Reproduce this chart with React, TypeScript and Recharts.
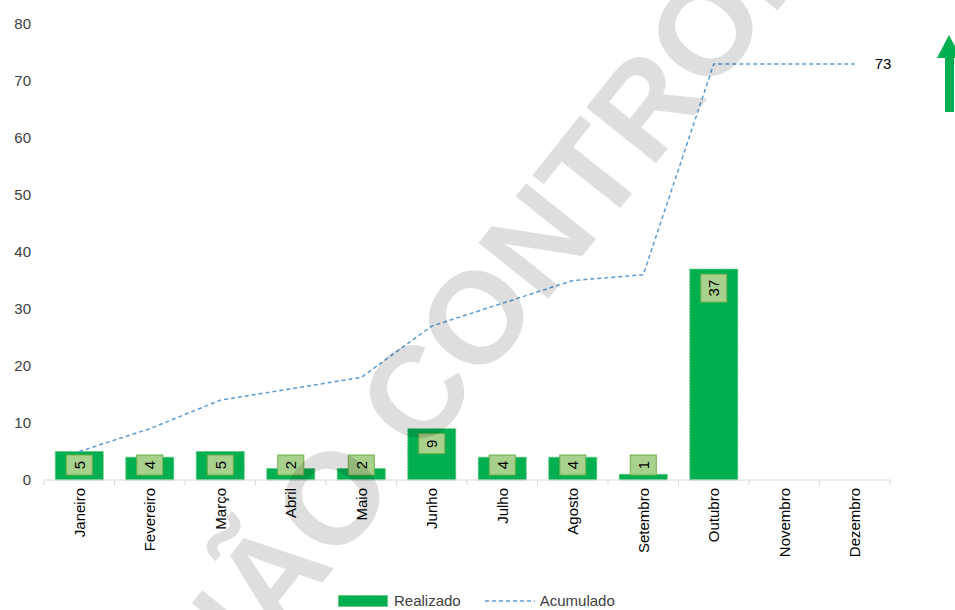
import React from 'react'
import {
  ComposedChart,
  Bar,
  Line,
  XAxis,
  YAxis,
  Legend,
  LabelList,
} from 'recharts'

const months = [
  'Janeiro', 'Fevereiro', 'Março', 'Abril', 'Maio', 'Junho',
  'Julho', 'Agosto', 'Setembro', 'Outubro', 'Novembro', 'Dezembro',
]
const realizado: (number | null)[] = [5, 4, 5, 2, 2, 9, 4, 4, 1, 37, null, null]
const acumulado = [5, 9, 14, 16, 18, 27, 31, 35, 36, 73, 73, 73]
const yTicks = [0, 10, 20, 30, 40, 50, 60, 70, 80]

const data = months.map((m, i) => ({ mes: m, realizado: realizado[i], acumulado: acumulado[i] }))

const W = 955
const H = 610
const PLOT_LEFT = 44
const PLOT_RIGHT = 890
const PLOT_TOP = 24
const PLOT_BOTTOM = 480
const BAND = (PLOT_RIGHT - PLOT_LEFT) / months.length

const FONT = '"Liberation Sans", Arial, sans-serif'
const GREEN = '#00b050'
const BLUE = '#5b9bd5'
const TEXT = '#404040'

// month labels plus the tick marks between categories
const MonthTick = (props: any) => {
  const { x, y, payload, index } = props
  return (
    <g>
      <line x1={x - BAND / 2} y1={y} x2={x - BAND / 2} y2={y + 5} stroke="#d9d9d9" />
      {index === months.length - 1 && (
        <line x1={x + BAND / 2} y1={y} x2={x + BAND / 2} y2={y + 5} stroke="#d9d9d9" />
      )}
      <text
        x={x}
        y={y + 8}
        transform={`rotate(-90 ${x} ${y + 8})`}
        textAnchor="end"
        dominantBaseline="central"
        fontFamily={FONT}
        fontSize={15}
        fill="#000"
      >
        {payload.value}
      </text>
    </g>
  )
}

// boxed, rotated value label at the inside end of each bar
const BarValueLabel = (props: any) => {
  const { x, y, width, value } = props
  if (value === null || value === undefined) return null
  const text = String(value)
  const h = text.length > 1 ? 28 : 20
  const w = 26
  const top = Math.min(y + 5, PLOT_BOTTOM - 5 - h)
  const cx = x + width / 2
  const cy = top + h / 2
  return (
    <g>
      <rect x={cx - w / 2} y={top} width={w} height={h} fill="#a9d18e" stroke="#70ad47" strokeWidth={1} />
      <text
        x={cx}
        y={cy}
        transform={`rotate(-90 ${cx} ${cy})`}
        textAnchor="middle"
        dominantBaseline="central"
        fontFamily={FONT}
        fontSize={15}
        fill="#000"
      >
        {text}
      </text>
    </g>
  )
}

const LastPointLabel = (props: any) => {
  const { x, y, value, index } = props
  if (index !== months.length - 1) return null
  return (
    <text x={x + 20} y={y} dominantBaseline="central" fontFamily={FONT} fontSize={15} fill="#000">
      {value}
    </text>
  )
}

const LegendContent = () => (
  <div style={{ display: 'flex', alignItems: 'center', fontFamily: FONT, fontSize: 15, color: TEXT }}>
    <svg width={50} height={12} style={{ marginRight: 6 }}>
      <rect x={0.5} y={0.5} width={49} height={11} fill={GREEN} stroke="#5dc47a" strokeDasharray="2 1" />
    </svg>
    <span>Realizado</span>
    <svg width={50} height={4} style={{ marginLeft: 24, marginRight: 5 }}>
      <line x1={0} y1={2} x2={50} y2={2} stroke={BLUE} strokeWidth={1.5} strokeDasharray="4 3" />
    </svg>
    <span>Acumulado</span>
  </div>
)

export default function App() {
  return (
    <div style={{ position: 'absolute', left: 0, top: 0, width: W, height: H, background: '#fff', overflow: 'hidden' }}>
      <ComposedChart
        width={W}
        height={H}
        data={data}
        margin={{ top: PLOT_TOP, right: W - PLOT_RIGHT, left: 0, bottom: 0 }}
        barCategoryGap="16%"
      >
        <XAxis
          dataKey="mes"
          interval={0}
          axisLine={{ stroke: '#d9d9d9' }}
          tickLine={false}
          tickSize={0}
          tickMargin={0}
          tick={<MonthTick />}
          height={H - PLOT_BOTTOM}
        />
        <YAxis
          domain={[0, 80]}
          ticks={yTicks}
          width={PLOT_LEFT}
          axisLine={false}
          tickLine={false}
          tickSize={0}
          tickMargin={13}
          tick={{ fill: TEXT, fontSize: 15, fontFamily: FONT }}
        />
        <Legend
          layout="horizontal"
          verticalAlign="middle"
          align="center"
          content={<LegendContent />}
          wrapperStyle={{ position: 'absolute', top: 592, left: 338, width: 300, height: 16 }}
        />
        <Bar
          dataKey="realizado"
          name="Realizado"
          fill={GREEN}
          stroke="#5dc47a"
          strokeDasharray="2 1"
          isAnimationActive={false}
        >
          <LabelList dataKey="realizado" content={<BarValueLabel />} />
        </Bar>
        <Line
          dataKey="acumulado"
          name="Acumulado"
          type="linear"
          stroke={BLUE}
          strokeWidth={1.5}
          strokeDasharray="4 3"
          dot={false}
          activeDot={false}
          isAnimationActive={false}
        >
          <LabelList dataKey="acumulado" content={<LastPointLabel />} />
        </Line>
      </ComposedChart>

      {/* watermark and arrow sit on top of the chart */}
      <svg width={W} height={H} style={{ position: 'absolute', left: 0, top: 0, pointerEvents: 'none' }}>
        <text
          x={435}
          y={369}
          transform="rotate(-51.5 435 369)"
          textAnchor="middle"
          dominantBaseline="central"
          fontFamily={FONT}
          fontWeight="bold"
          fontSize={130}
          fill="#000"
          fillOpacity={0.13}
        >
          CÓPIA NÃO CONTROLADA
        </text>
        <polygon
          points="949,35 961,58 954,58 954,112 945,112 945,58 937,58"
          fill={GREEN}
        />
      </svg>
    </div>
  )
}
